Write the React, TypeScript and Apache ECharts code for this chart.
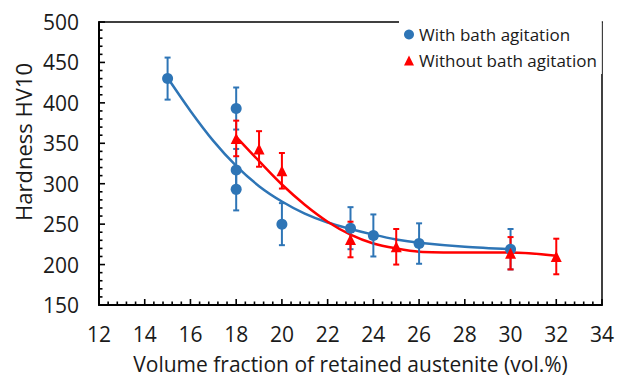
import React, { useEffect, useRef } from "react";
import * as echarts from "echarts";

const xBlue = [15, 18, 18, 18, 20, 23, 24, 26, 30];
const yBlue = [430, 393, 317, 293, 250, 245, 236, 226, 219];
const errBlue = [26, 26, 26, 26, 26, 26, 26, 25, 25];

const xRed = [18, 19, 20, 23, 25, 30, 32];
const yRed = [356, 343, 316, 231, 222, 214, 210];
const errRed = [22, 22, 22, 22, 22, 20, 22];

const trendBlueX = [15, 16, 17, 18, 19, 20, 21, 22, 23, 24, 25, 26, 28, 30];
const trendBlueY = [431, 390, 353, 322, 297, 278, 263, 252, 244, 237, 231, 227, 222, 219];

const trendRedX = [18, 19, 20, 21, 22, 23, 24, 25, 26, 28, 30, 32];
const trendRedY = [358, 328, 299, 274, 253, 237, 226, 220, 216, 215, 215, 211];

const xMajorTicks = [12, 14, 16, 18, 20, 22, 24, 26, 28, 30, 32, 34];
const yMajorTicks = [150, 200, 250, 300, 350, 400, 450, 500];
const minorPerMajor = 5;

const xTicks = { min: 12, max: 34, interval: 2 };
const yTicks = { min: 150, max: 500, interval: 50 };

const seriesNames = ["With bath agitation", "Without bath agitation"];
const BLUE = "#2E75B6";
const RED = "#FF0000";
const FONT = "'Open Sans', sans-serif";

const MAJOR_LEN = 6;
const MINOR_LEN = 3.5;
const TICK_W = 1.6;

function withMinor(major: number[]) {
  const out: number[][] = [];
  major.forEach((v, i) => {
    out.push([v, 1]);
    if (i < major.length - 1) {
      const step = (major[i + 1] - v) / minorPerMajor;
      for (let k = 1; k < minorPerMajor; k++) out.push([v + step * k, 0]);
    }
  });
  return out;
}

function errorBarSeries(xs: number[], ys: number[], errs: number[], color: string) {
  return {
    type: "custom",
    z: 3,
    silent: true,
    data: xs.map((x, i) => [x, ys[i] - errs[i], ys[i] + errs[i]]),
    encode: { x: 0, y: [1, 2] },
    renderItem: (_params: any, api: any) => {
      const x = api.value(0);
      const top = api.coord([x, api.value(2)]);
      const bot = api.coord([x, api.value(1)]);
      const cap = 3;
      const style = { stroke: color, lineWidth: 2 };
      return {
        type: "group",
        children: [
          { type: "line", shape: { x1: top[0], y1: top[1], x2: bot[0], y2: bot[1] }, style },
          { type: "line", shape: { x1: top[0] - cap, y1: top[1], x2: top[0] + cap, y2: top[1] }, style },
          { type: "line", shape: { x1: bot[0] - cap, y1: bot[1], x2: bot[0] + cap, y2: bot[1] }, style },
        ],
      };
    },
  };
}

function tickMarkSeries(horizontalAxis: boolean) {
  const ticks = withMinor(horizontalAxis ? xMajorTicks : yMajorTicks);
  return {
    type: "scatter",
    z: 6,
    silent: true,
    clip: false,
    symbol: "rect",
    itemStyle: { color: "#000", opacity: 1 },
    data: ticks.map((t) => {
      const len = t[1] ? MAJOR_LEN : MINOR_LEN;
      return horizontalAxis
        ? {
            value: [t[0], yTicks.min],
            symbolSize: [TICK_W, len],
            symbolOffset: [0, -len / 2],
          }
        : {
            value: [xTicks.min, t[0]],
            symbolSize: [len, TICK_W],
            symbolOffset: [len / 2, 0],
          };
    }),
  };
}

export default function App() {
  const ref = useRef<HTMLDivElement>(null);
  useEffect(() => {
    document.body.style.margin = "0";
    const chart = echarts.init(ref.current!, null, { renderer: "svg" });
    const frameAxis = {
      type: "value",
      axisLine: { show: true, onZero: false, lineStyle: { color: "#000", width: 1.5 } },
      axisTick: { show: false },
      minorTick: { show: false },
      axisLabel: { show: false },
      splitLine: { show: false },
    };
    chart.setOption({
      animation: false,
      backgroundColor: "#fff",
      grid: { left: 99, right: 15, top: 22, bottom: 71, outerBoundsMode: "none", containLabel: false },
      xAxis: [
        {
          type: "value",
          ...xTicks,
          position: "bottom",
          axisLine: { show: true, onZero: false, lineStyle: { color: "#000", width: 2 } },
          axisTick: { show: false },
          minorTick: { show: false },
          splitLine: { show: false },
          axisLabel: { color: "#1a1a1a", fontSize: 21, fontFamily: FONT, margin: 18 },
          name: "Volume fraction of retained austenite (vol.%)",
          nameLocation: "middle",
          nameGap: 48,
          nameTextStyle: { color: "#1a1a1a", fontSize: 21, fontFamily: FONT },
        },
        { ...frameAxis, ...xTicks, position: "top" },
      ],
      yAxis: [
        {
          type: "value",
          ...yTicks,
          position: "left",
          axisLine: { show: true, onZero: false, lineStyle: { color: "#000", width: 2 } },
          axisTick: { show: false },
          minorTick: { show: false },
          splitLine: { show: false },
          axisLabel: { color: "#1a1a1a", fontSize: 21, fontFamily: FONT, margin: 20 },
        },
        { ...frameAxis, ...yTicks, position: "right" },
      ],
      graphic: [
        {
          type: "text",
          x: 23,
          y: 142,
          rotation: Math.PI / 2,
          style: {
            text: "Hardness HV10",
            fill: "#1a1a1a",
            font: `22px ${FONT}`,
            textAlign: "center",
            textVerticalAlign: "middle",
          },
        },
      ],
      legend: {
        orient: "vertical",
        left: 399,
        top: 21,
        itemWidth: 10,
        itemHeight: 10,
        itemGap: 9,
        backgroundColor: "#fff",
        textStyle: { color: "#1a1a1a", fontSize: 17, fontFamily: FONT },
        data: [
          { name: seriesNames[0], icon: "circle" },
          { name: seriesNames[1], icon: "triangle" },
        ],
      },
      series: [
        {
          type: "line",
          data: trendBlueX.map((x, i) => [x, trendBlueY[i]]),
          smooth: 0.3,
          showSymbol: false,
          silent: true,
          lineStyle: { color: BLUE, width: 2.5 },
          z: 2,
        },
        {
          type: "line",
          data: trendRedX.map((x, i) => [x, trendRedY[i]]),
          smooth: 0.3,
          showSymbol: false,
          silent: true,
          lineStyle: { color: RED, width: 2.5 },
          z: 2,
        },
        errorBarSeries(xBlue, yBlue, errBlue, BLUE),
        {
          name: seriesNames[0],
          type: "scatter",
          symbol: "circle",
          symbolSize: 11,
          itemStyle: { color: BLUE, opacity: 1 },
          data: xBlue.map((x, i) => [x, yBlue[i]]),
          z: 4,
        },
        errorBarSeries(xRed, yRed, errRed, RED),
        {
          name: seriesNames[1],
          type: "scatter",
          symbol: "triangle",
          symbolSize: 11,
          itemStyle: { color: RED, opacity: 1 },
          data: xRed.map((x, i) => [x, yRed[i]]),
          z: 5,
        },
        tickMarkSeries(true),
        tickMarkSeries(false),
      ],
    });
    return () => chart.dispose();
  }, []);
  return <div ref={ref} style={{ width: 617, height: 376 }} />;
}
